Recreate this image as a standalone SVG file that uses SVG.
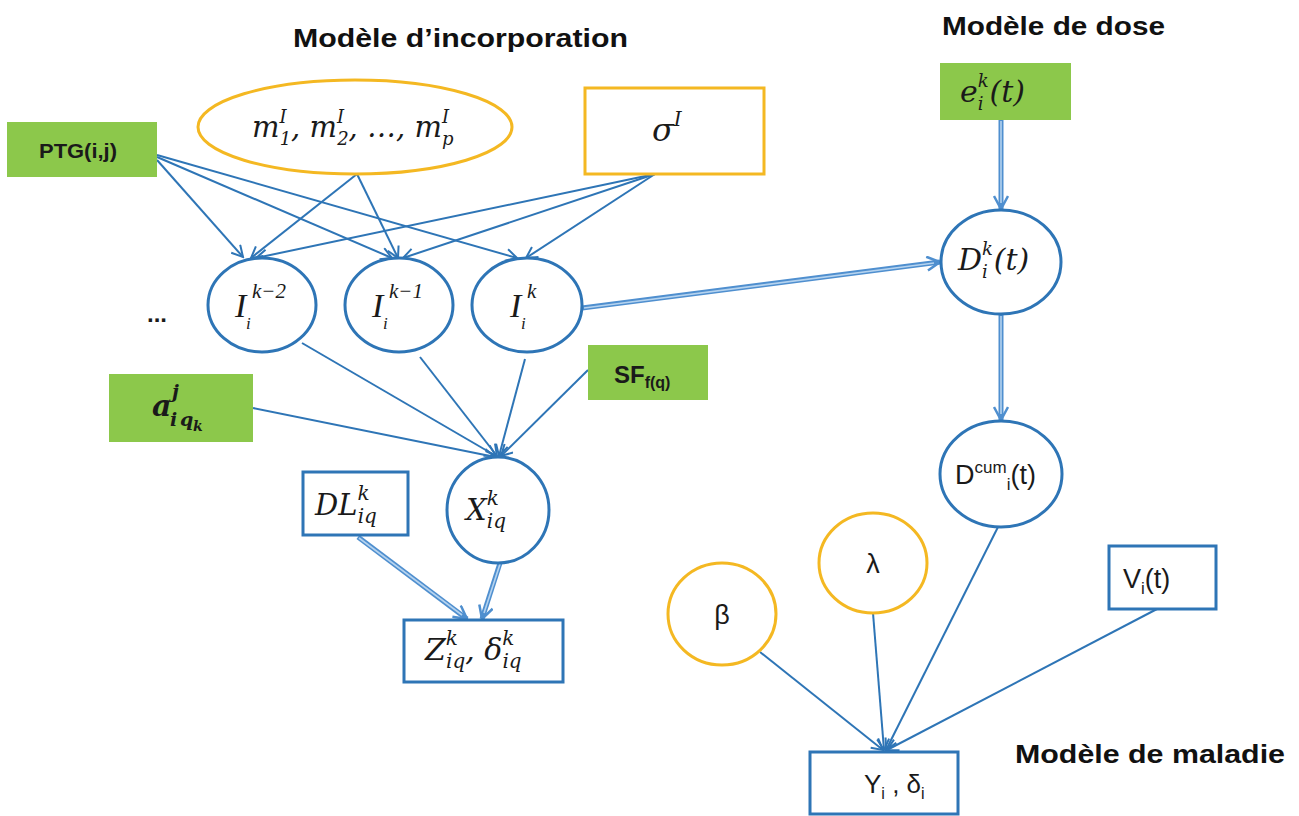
<svg xmlns="http://www.w3.org/2000/svg" width="1299" height="816" viewBox="0 0 1299 816">
<defs>
<style>
.green{fill:#8CC84B}
.orn{fill:#fff;stroke:#F4B822;stroke-width:3}
.blu{fill:#fff;stroke:#2E75B6;stroke-width:3}
.edge{stroke:#2E75B6;stroke-width:2;fill:none;marker-end:url(#arr)}
.dout{stroke:#4F8FCF;stroke-width:5;fill:none;marker-end:url(#arr2)}
.din{stroke:#B5D3EF;stroke-width:1.6;fill:none}
.tnr{font-family:"Liberation Serif",serif;font-style:italic;fill:#1a1a1a}
.cm{font-family:"DejaVu Serif",serif;font-style:italic;fill:#1a1a1a}
.up{font-style:normal}
.sans{font-family:"Liberation Sans",Arial,sans-serif;fill:#1a1a1a}
.title{font-family:"Liberation Sans",Arial,sans-serif;font-weight:bold;fill:#111}
.bold{font-family:"Liberation Sans",Arial,sans-serif;font-weight:bold;fill:#1a1a1a}
</style>
<marker id="arr" viewBox="0 0 14 14" refX="12" refY="7" markerWidth="14" markerHeight="14" markerUnits="userSpaceOnUse" orient="auto">
<path d="M1,1 L12,7 L1,13" fill="none" stroke="#2E75B6" stroke-width="2"/>
</marker>
<marker id="arr2" viewBox="0 0 16 16" refX="14" refY="8" markerWidth="16" markerHeight="16" markerUnits="userSpaceOnUse" orient="auto">
<path d="M1,1 L14,8 L1,15" fill="none" stroke="#4F8FCF" stroke-width="2.5"/>
</marker>
</defs>
<rect width="1299" height="816" fill="#fff"/>

<g id="titles">
<text class="title" x="293" y="47" font-size="25" textLength="335" lengthAdjust="spacingAndGlyphs">Modèle d’incorporation</text>
<text class="title" x="942" y="35" font-size="25" textLength="223" lengthAdjust="spacingAndGlyphs">Modèle de dose</text>
<text class="title" x="1015" y="763" font-size="26" textLength="270" lengthAdjust="spacingAndGlyphs">Modèle de maladie</text>
</g>

<g id="connectors">
<line class="edge" x1="157" y1="160" x2="243" y2="257"/>
<line class="edge" x1="157" y1="157" x2="392" y2="258"/>
<line class="edge" x1="157" y1="155" x2="517" y2="258"/>
<line class="edge" x1="357" y1="174" x2="251" y2="258"/>
<line class="edge" x1="357" y1="174" x2="398" y2="258"/>
<line class="edge" x1="655" y1="174" x2="256" y2="258"/>
<line class="edge" x1="655" y1="174" x2="403" y2="258"/>
<line class="edge" x1="655" y1="174" x2="526" y2="258"/>
<line class="edge" x1="302" y1="343" x2="496" y2="456"/>
<line class="edge" x1="420" y1="357" x2="497" y2="456"/>
<line class="edge" x1="525" y1="359" x2="499" y2="456"/>
<line class="edge" x1="253" y1="408" x2="495" y2="457"/>
<line class="edge" x1="588" y1="370" x2="501" y2="456"/>
<line class="edge" x1="760" y1="652" x2="883" y2="750"/>
<line class="edge" x1="873" y1="613" x2="884" y2="750"/>
<line class="edge" x1="998" y1="527" x2="886" y2="750"/>
<line class="edge" x1="1157" y1="609" x2="887" y2="750"/>
<line class="dout" x1="582" y1="308" x2="940" y2="262"/>
<line class="din" x1="584" y1="308" x2="934" y2="263"/>
<line class="dout" x1="1001" y1="120" x2="1001" y2="209"/>
<line class="din" x1="1001" y1="121" x2="1001" y2="203"/>
<line class="dout" x1="1001" y1="315" x2="1001" y2="420"/>
<line class="din" x1="1001" y1="316" x2="1001" y2="414"/>
<line class="dout" x1="358" y1="537" x2="467" y2="619"/>
<line class="din" x1="359" y1="538" x2="462" y2="615"/>
<line class="dout" x1="500" y1="563" x2="482" y2="619"/>
<line class="din" x1="500" y1="564" x2="484" y2="613"/>
</g>

<g id="n-ptg">
<rect class="green" x="7" y="122" width="150" height="55"/>
<text class="bold" x="78" y="158" font-size="20" text-anchor="middle" textLength="78" lengthAdjust="spacingAndGlyphs">PTG(i,j)</text>
</g>

<g id="n-m">
<ellipse class="orn" cx="355" cy="127" rx="157" ry="47"/>
<text class="cm" x="252" y="137" font-size="29">m<tspan font-size="18" dy="-14">I</tspan><tspan font-size="18" dx="-7" dy="22">1</tspan><tspan dy="-8">, m</tspan><tspan font-size="18" dy="-14">I</tspan><tspan font-size="18" dx="-7" dy="22">2</tspan><tspan dy="-8">, …, m</tspan><tspan font-size="18" dy="-14">I</tspan><tspan font-size="18" dx="-7" dy="22">p</tspan></text>
</g>

<g id="n-sigma">
<rect class="orn" x="585" y="88" width="179" height="86"/>
<text class="cm" x="652" y="141" font-size="32">σ<tspan font-size="20" dy="-15">I</tspan></text>
</g>

<g id="n-dots">
<text class="bold" x="157" y="322" font-size="24" text-anchor="middle">...</text>
</g>

<g id="n-i2">
<ellipse class="blu" cx="262" cy="305" rx="54" ry="47"/>
<text class="tnr" font-size="34"><tspan x="235" y="317">I</tspan><tspan x="252" y="298" font-size="21">k−2</tspan><tspan x="246" y="329" font-size="17">i</tspan></text>
</g>
<g id="n-i1">
<ellipse class="blu" cx="399" cy="305" rx="54" ry="47"/>
<text class="tnr" font-size="34"><tspan x="372" y="317">I</tspan><tspan x="389" y="298" font-size="21">k−1</tspan><tspan x="383" y="329" font-size="17">i</tspan></text>
</g>
<g id="n-i0">
<ellipse class="blu" cx="527" cy="305" rx="55" ry="47"/>
<text class="tnr" font-size="34"><tspan x="510" y="317">I</tspan><tspan x="527" y="298" font-size="21">k</tspan><tspan x="521" y="329" font-size="17">i</tspan></text>
</g>

<g id="n-a">
<rect class="green" x="109" y="374" width="144" height="68"/>
<text class="cm" font-weight="bold" font-size="30"><tspan x="152" y="416">a</tspan><tspan x="172" y="398" font-size="19">j</tspan><tspan x="170" y="426" font-size="19">i</tspan><tspan x="180" y="426" font-size="19">q</tspan><tspan x="193" y="431" font-size="14">k</tspan></text>
</g>

<g id="n-sf">
<rect class="green" x="588" y="345" width="120" height="55"/>
<text class="bold" x="614" y="383" font-size="24">SF<tspan font-size="16" dy="5">f(q)</tspan></text>
</g>

<g id="n-x">
<ellipse class="blu" cx="498" cy="510" rx="51" ry="53"/>
<text class="cm" x="466" y="520" font-size="29">X<tspan font-size="20" dy="-15">k</tspan><tspan font-size="20" dx="-12" dy="23">iq</tspan></text>
</g>

<g id="n-dl">
<rect class="blu" x="303" y="472" width="105" height="63"/>
<text class="cm" x="315" y="515" font-size="29">DL<tspan font-size="20" dy="-15">k</tspan><tspan font-size="20" dx="-12" dy="23">iq</tspan></text>
</g>

<g id="n-z">
<rect class="blu" x="404" y="620" width="159" height="62"/>
<text class="cm" x="425" y="660" font-size="30">Z<tspan font-size="20" dy="-15">k</tspan><tspan font-size="20" dx="-12" dy="23">iq</tspan><tspan dy="-8">, δ</tspan><tspan font-size="20" dy="-15">k</tspan><tspan font-size="20" dx="-12" dy="23">iq</tspan></text>
</g>

<g id="n-e">
<rect class="green" x="940" y="63" width="131" height="57"/>
<text class="cm" x="960" y="102" font-size="30">e<tspan font-size="18" dy="-15">k</tspan><tspan font-size="18" dx="-11" dy="23">i</tspan><tspan dx="6" dy="-8">(t)</tspan></text>
</g>

<g id="n-d">
<ellipse class="blu" cx="1001" cy="262" rx="60" ry="52"/>
<text class="cm" x="958" y="270" font-size="30">D<tspan font-size="18" dy="-15">k</tspan><tspan font-size="18" dx="-11" dy="23">i</tspan><tspan dx="6" dy="-8">(t)</tspan></text>
</g>

<g id="n-dcum">
<ellipse class="blu" cx="1001" cy="474" rx="61" ry="53"/>
<text class="sans" x="955" y="484" font-size="27">D<tspan font-size="17" dy="-11">cum</tspan><tspan font-size="17" dy="17">i</tspan><tspan dy="-6">(t)</tspan></text>
</g>

<g id="n-beta">
<ellipse class="orn" cx="722" cy="614" rx="54" ry="51"/>
<text class="sans" x="722" y="624" font-size="27" text-anchor="middle">β</text>
</g>

<g id="n-lambda">
<ellipse class="orn" cx="873" cy="563" rx="54" ry="50"/>
<text class="sans" x="873" y="573" font-size="27" text-anchor="middle">λ</text>
</g>

<g id="n-v">
<rect class="blu" x="1109" y="546" width="107" height="63"/>
<text class="sans" x="1123" y="588" font-size="27">V<tspan font-size="17" dy="6">i</tspan><tspan dy="-6">(t)</tspan></text>
</g>

<g id="n-y">
<rect class="blu" x="810" y="752" width="148" height="62"/>
<text class="sans" x="864" y="793" font-size="26">Y<tspan font-size="16" dy="6">i</tspan><tspan dy="-6"> , δ</tspan><tspan font-size="16" dy="6">i</tspan></text>
</g>
</svg>
